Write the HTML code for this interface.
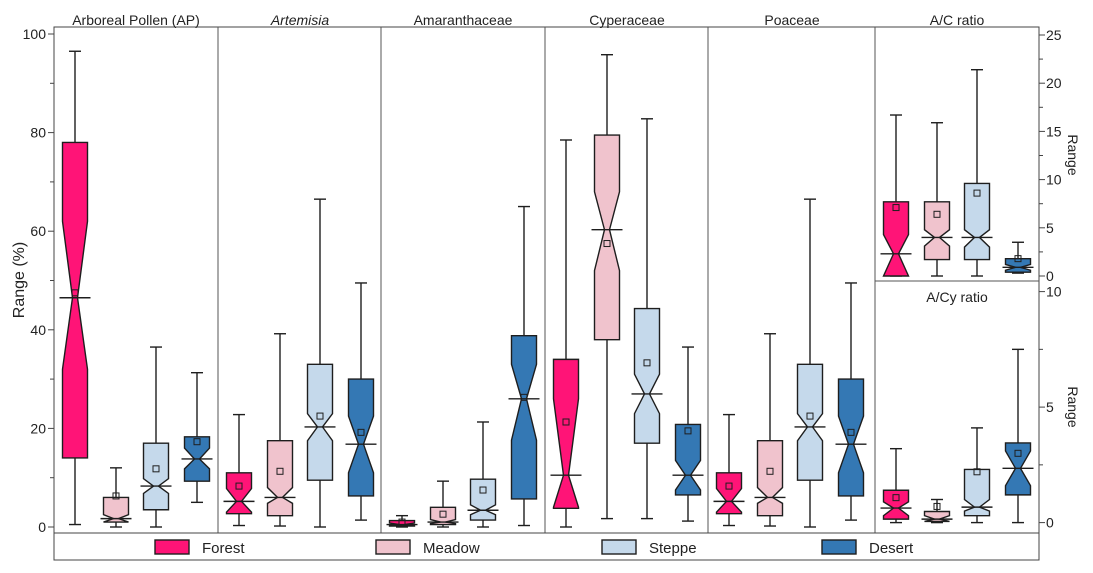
<!DOCTYPE html>
<html><head><meta charset="utf-8"><style>
html,body{margin:0;padding:0;background:#fff;}
svg{display:block;font-family:"Liberation Sans",Arial,sans-serif;}
</style></head><body>
<svg id="chart" width="1093" height="573" viewBox="0 0 1093 573"></svg>
<script>
const panelTitles = ["Arboreal Pollen (AP)", "Artemisia", "Amaranthaceae", "Cyperaceae", "Poaceae", "A/C ratio", "A/Cy ratio"];
const groups = ["Forest", "Meadow", "Steppe", "Desert"];
const whiskerLow = [[0.5,0,0,5],[0.3,0.2,0,1.4],[0,0,0,0.3],[0,1.7,1.7,1.2],[0.3,0.2,0,1.4],[0,0,0,0.3],[0,0,0,0]];
const q1Vals = [[14,1,3.5,9.3],[2.7,2.3,9.5,6.3],[0.2,0.5,1.4,5.7],[3.8,38,17,6.5],[2.7,2.3,9.5,6.3],[0,1.7,1.7,0.4],[0.15,0.05,0.3,1.2]];
const medianVals = [[46.5,1.7,8.3,13.8],[5.2,6,20.3,16.8],[0.5,1,3.4,26],[10.5,60.3,27,10.5],[5.2,6,20.3,16.8],[2.3,4,4,0.9],[0.63,0.15,0.67,2.35]];
const q3Vals = [[78,6,17,18.3],[11,17.5,33,30],[1.3,4,9.7,38.8],[34,79.5,44.3,20.8],[11,17.5,33,30],[7.7,7.7,9.6,1.8],[1.4,0.48,2.3,3.45]];
const whiskerHigh = [[96.5,12,36.5,31.3],[22.8,39.2,66.5,49.5],[2.3,9.3,21.3,65],[78.5,95.8,82.8,36.5],[22.8,39.2,66.5,49.5],[16.7,15.9,21.4,3.5],[3.2,1.0,4.1,7.5]];
const meanVals = [[47.5,6.3,11.8,17.3],[8.3,11.3,22.5,19.2],[1,2.6,7.5,26.3],[21.3,57.5,33.3,19.5],[8.3,11.3,22.5,19.2],[7.1,6.4,8.6,1.8],[1.08,0.7,2.2,3.0]];
const notchLow = [[32,1,6.8,11.8],[3,4.8,17.5,11],[0.3,0.7,2.5,17.6],[4,52,23,7.5],[3,4.8,17.5,11],[0,3.1,3.0,0.6],[0.3,0.05,0.5,1.6]];
const notchHigh = [[62,2.5,9.8,16],[7.8,8,23,22.5],[0.8,1.5,4.5,33],[26,68,31,13.5],[7.8,8,23,22.5],[4.3,4.8,4.8,1.2],[0.9,0.3,1.0,3.1]];
const mainTicks = [0,20,40,60,80,100];
const acTicks = [0,5,10,15,20,25];
const acyTicks = [0,5,10];

const svg = document.getElementById('chart');
const NS = 'http://www.w3.org/2000/svg';
function mk(tag, attrs, parent){const e=document.createElementNS(NS,tag);for(const k in attrs)e.setAttribute(k,attrs[k]);(parent||svg).appendChild(e);return e;}
const colors = ["#ff1477","#f0c3cd","#c5d9eb","#3478b4"];
const stroke = "#1e1e1e";
const yMain = v => 527 - v*4.93;
const yAC = v => 276 - v*9.64;
const yACy = v => 522.6 - v*23.1;
const panelX = [54,218,381,545,708,875,875];
const offsets = [21,62,102,143];
const yScales = [yMain,yMain,yMain,yMain,yMain,yAC,yACy];

let fr = mk('rect',{x:54,y:27,width:985,height:506,fill:'none',stroke:'#444','stroke-width':1});
 
[218,381,545,708,875].forEach((x,i)=>{
  const l = mk('line',{x1:x,y1:27,x2:x,y2:533,stroke:'#555','stroke-width':1});
   
});
let hd = mk('line',{x1:875,y1:281,x2:1039,y2:281,stroke:'#555','stroke-width':1});
 

for(let v=0; v<=100; v+=10){
  const t = mk('line',{x1:v%20===0?48:50,y1:yMain(v),x2:54,y2:yMain(v),stroke:'#444'});
   
}
mainTicks.forEach(v=>{
  const t = mk('text',{x:46,y:yMain(v)+5,'text-anchor':'end','font-size':14,fill:'#222'}); t.textContent=v;
   
});
let yl = mk('text',{x:24,y:280,'text-anchor':'middle','font-size':16,fill:'#222',transform:'rotate(-90 24 280)'}); yl.textContent='Range (%)';
 

for(let v=0; v<=25; v+=2.5){
  const t = mk('line',{x1:1039,y1:yAC(v),x2:v%5===0?1045:1043,y2:yAC(v),stroke:'#444'});
   
}
acTicks.forEach(v=>{
  const t = mk('text',{x:1046,y:yAC(v)+5,'font-size':14,fill:'#222'}); t.textContent=v;
   
});
for(let v=0; v<=10; v+=2.5){
  const t = mk('line',{x1:1039,y1:yACy(v),x2:v%5===0?1045:1043,y2:yACy(v),stroke:'#444'});
   
}
acyTicks.forEach(v=>{
  const t = mk('text',{x:1046,y:yACy(v)+5,'font-size':14,fill:'#222'}); t.textContent=v;
   
});
[[155,'ac-axis-title'],[407,'acy-axis-title']].forEach(([yy,n])=>{
  const t = mk('text',{x:1068,y:yy,'text-anchor':'middle','font-size':14,fill:'#222',transform:`rotate(90 1068 ${yy})`}); t.textContent='Range';
   
});

const titleX = [136,300,463,627,792,957,957];
const titleY = [25,25,25,25,25,25,302];
panelTitles.forEach((tt,i)=>{
  const t = mk('text',{x:titleX[i],y:titleY[i],'text-anchor':'middle','font-size':14,fill:'#222'}); t.textContent=tt;
  if(tt==='Artemisia') t.setAttribute('font-style','italic');
   
});

const W = 25;
for(let p=0;p<7;p++){
  const y = yScales[p];
  for(let g=0; g<4; g++){
    const cx = panelX[p] + offsets[g];
    const L = cx - W/2, R = cx + W/2;
    const gEl = mk('g',{});
    
    
    const wl = mk('line',{x1:cx,y1:y(whiskerLow[p][g]),x2:cx,y2:y(whiskerHigh[p][g]),stroke:stroke,'stroke-width':1.4},gEl);
     
    [whiskerLow[p][g], whiskerHigh[p][g]].forEach(v=>{
      const c = mk('line',{x1:cx-6,y1:y(v),x2:cx+6,y2:y(v),stroke:stroke,'stroke-width':1.4},gEl);
       
    });
    const q1=q1Vals[p][g], q3=q3Vals[p][g], md=medianVals[p][g];
    const nl=Math.max(notchLow[p][g],q1), nh=Math.min(notchHigh[p][g],q3);
    const ind = W*0.4;
    const pts = [[L,y(q3)],[R,y(q3)],[R,y(nh)],[R-ind,y(md)],[R,y(nl)],[R,y(q1)],[L,y(q1)],[L,y(nl)],[L+ind,y(md)],[L,y(nh)]];
    const poly = mk('polygon',{points:pts.map(a=>a.join(',')).join(' '),fill:colors[g],stroke:stroke,'stroke-width':1.4},gEl);
     
    const ml = mk('line',{x1:L-3,y1:y(md),x2:R+3,y2:y(md),stroke:stroke,'stroke-width':1.4},gEl);
     
    const mr = mk('rect',{x:cx-3,y:y(meanVals[p][g])-3,width:6,height:6,fill:'none',stroke:stroke,'stroke-width':1},gEl);
     
  }
}

let lb = mk('rect',{x:54,y:533,width:985,height:27,fill:'none',stroke:'#444'});
 
const legX = [155,376,602,822];
groups.forEach((gname,i)=>{
  const r = mk('rect',{x:legX[i],y:540,width:34,height:14,fill:colors[i],stroke:stroke,'stroke-width':1.4});
   
  const t = mk('text',{x:legX[i]+47,y:553,'font-size':15,fill:'#222'}); t.textContent=gname;
   
});
</script>
</body></html>
